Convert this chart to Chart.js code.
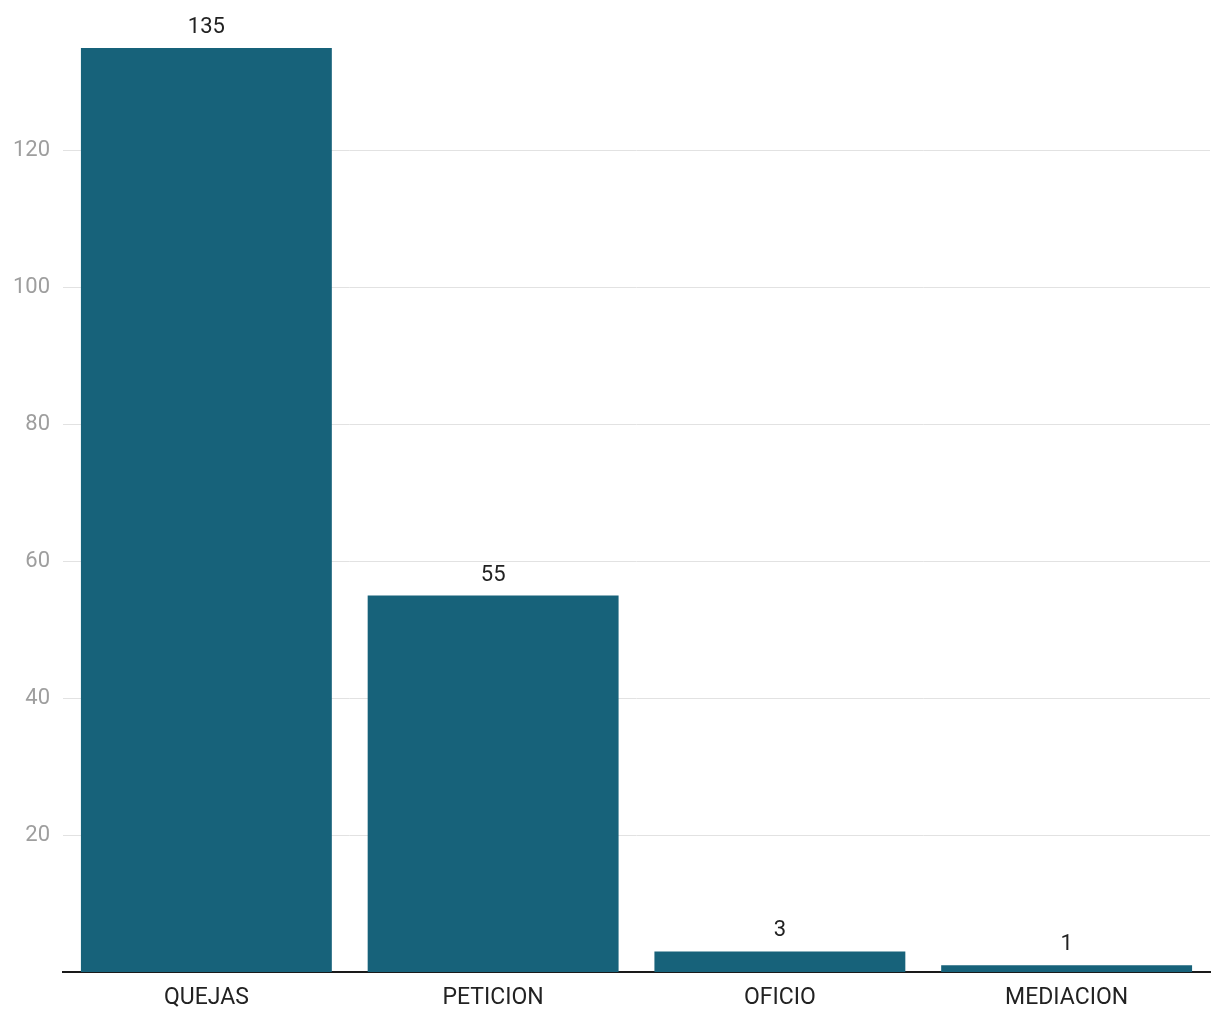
<!DOCTYPE html>
<html>
<head>
<meta charset="utf-8">
<script src="https://cdn.jsdelivr.net/npm/chart.js@4/dist/chart.umd.min.js"></script>
<style>
  html, body { margin: 0; padding: 0; background: #ffffff; }
  #wrap { width: 1220px; height: 1020px; }
</style>
</head>
<body>
<div id="wrap"><canvas id="c" width="1220" height="1020"></canvas></div>
<script>
const categories = ["QUEJAS", "PETICION", "OFICIO", "MEDIACION"];
const values = [135, 55, 3, 1];
const yTickValues = [20, 40, 60, 80, 100, 120];

const barColor = "#17627a";

const valueLabels = {
  id: "valueLabels",
  afterDatasetsDraw(chart) {
    const ctx = chart.ctx;
    const meta = chart.getDatasetMeta(0);
    ctx.save();
    ctx.font = "22px Roboto";
    ctx.fillStyle = "#222222";
    ctx.textAlign = "center";
    ctx.textBaseline = "alphabetic";
    meta.data.forEach((bar, i) => {
      ctx.fillText(String(values[i]), bar.x, bar.y - 15);
    });
    ctx.restore();
  }
};

new Chart(document.getElementById("c"), {
  type: "bar",
  data: {
    labels: categories,
    datasets: [{
      data: values,
      backgroundColor: barColor,
      borderWidth: 0,
      categoryPercentage: 1,
      barPercentage: 0.875
    }]
  },
  options: {
    responsive: false,
    animation: false,
    devicePixelRatio: 1,
    layout: { padding: { top: 48, right: 10, left: 0, bottom: 0 } },
    plugins: { legend: { display: false }, tooltip: { enabled: false } },
    scales: {
      x: {
        grid: { display: false, drawTicks: false },
        border: { display: true, color: "#1a1a1a", width: 2 },
        ticks: { font: { family: "Roboto", size: 23 }, color: "#222222", padding: 12 },
        afterFit(scale) { scale.height = 48; }
      },
      y: {
        min: 0,
        max: 135,
        afterBuildTicks(scale) {
          scale.ticks = yTickValues.map(v => ({ value: v }));
        },
        grid: { color: "#e2e2e2", lineWidth: 1, drawTicks: false },
        border: { display: false },
        ticks: { font: { family: "Roboto", size: 22 }, color: "#9e9e9e", padding: 13 },
        afterFit(scale) { scale.width = 63; }
      }
    }
  },
  plugins: [valueLabels]
});
</script>
</body>
</html>
